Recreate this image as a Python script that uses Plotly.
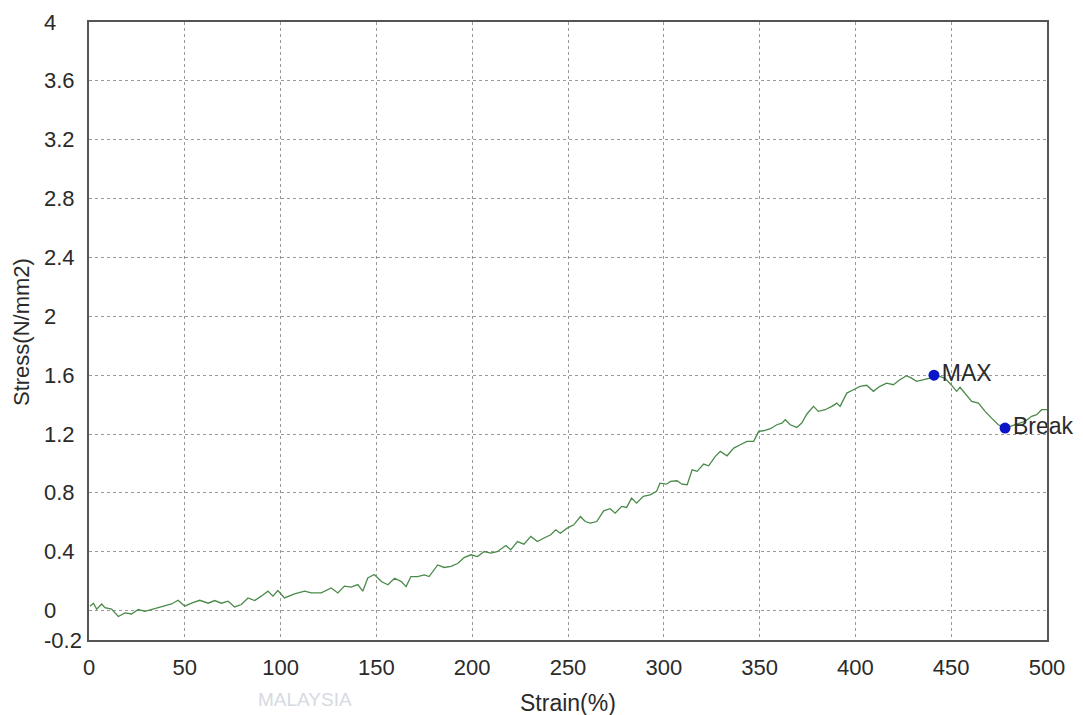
import plotly.graph_objects as go

# ---- data ----
strain = [0.5, 2.3, 4.0, 6.6, 8.3, 11.8, 15.3, 18.8, 22.2, 25.7, 29.2, 32.6, 37.8, 43.1, 46.5,
          50.0, 53.5, 57.8, 62.2, 65.6, 69.1, 72.6, 76.0, 79.5, 83.0, 86.5, 89.9, 93.4, 96.0,
          98.6, 102.0, 107.3, 112.5, 116.0, 121.2, 126.4, 129.9, 133.3, 136.8, 140.3, 142.9,
          145.5, 148.9, 152.6, 156.0, 159.5, 163.0, 165.5, 168.0, 171.5, 175.0, 177.5, 182.0,
          185.4, 188.9, 192.4, 195.8, 199.3, 202.8, 206.3, 209.7, 213.0, 217.6, 220.1, 223.6,
          227.0, 230.6, 234.0, 237.5, 241.0, 243.6, 246.0, 249.6, 253.0, 256.5, 259.0, 261.7,
          265.0, 268.6, 272.0, 274.6, 278.0, 280.6, 283.2, 285.8, 289.3, 292.8, 296.2, 298.0,
          301.4, 303.5, 306.9, 309.5, 312.2, 314.8, 317.4, 320.8, 323.4, 326.9, 329.5, 333.0,
          336.5, 339.9, 343.4, 346.9, 349.5, 352.0, 355.6, 359.0, 361.6, 363.4, 366.0, 369.4,
          372.0, 374.7, 378.1, 380.7, 384.2, 387.7, 390.3, 392.0, 395.5, 399.0, 402.4, 405.9,
          409.4, 412.8, 416.3, 419.8, 423.2, 426.7, 429.3, 431.9, 435.4, 438.9, 441.0, 446.6,
          450.0, 452.8, 454.6, 457.3, 460.7, 464.2, 467.7, 471.1, 474.6, 478.1, 483.3, 488.5,
          492.0, 494.6, 497.2, 500.0]
stress = [0.03, 0.05, 0.01, 0.045, 0.02, 0.01, -0.04, -0.016, -0.023, 0.007, -0.005, 0.007, 0.03,
          0.045, 0.07, 0.03, 0.05, 0.07, 0.05, 0.068, 0.05, 0.064, 0.025, 0.041, 0.086, 0.068,
          0.098, 0.132, 0.098, 0.136, 0.086, 0.113, 0.132, 0.12, 0.12, 0.154, 0.12, 0.166, 0.159,
          0.177, 0.132, 0.222, 0.245, 0.197, 0.175, 0.22, 0.197, 0.163, 0.231, 0.231, 0.243,
          0.231, 0.31, 0.293, 0.30, 0.32, 0.36, 0.379, 0.367, 0.401, 0.39, 0.40, 0.442, 0.413,
          0.469, 0.451, 0.504, 0.469, 0.493, 0.515, 0.549, 0.526, 0.56, 0.583, 0.639, 0.605,
          0.594, 0.605, 0.678, 0.692, 0.662, 0.708, 0.701, 0.764, 0.73, 0.776, 0.787, 0.81,
          0.866, 0.859, 0.878, 0.882, 0.859, 0.855, 0.957, 0.946, 0.996, 0.984, 1.048, 1.082,
          1.052, 1.104, 1.127, 1.15, 1.15, 1.218, 1.222, 1.236, 1.263, 1.274, 1.297, 1.263,
          1.245, 1.274, 1.336, 1.388, 1.354, 1.365, 1.388, 1.41, 1.388, 1.478, 1.501, 1.524,
          1.531, 1.49, 1.524, 1.546, 1.535, 1.569, 1.596, 1.58, 1.558, 1.569, 1.58, 1.603,
          1.58, 1.535, 1.49, 1.517, 1.478, 1.422, 1.41, 1.354, 1.308, 1.263, 1.24, 1.263,
          1.286, 1.32, 1.331, 1.365, 1.365]

point_names = ["MAX", "Break"]
point_strain = [441.0, 478.1]
point_stress = [1.60, 1.24]

x_ticks = [0, 50, 100, 150, 200, 250, 300, 350, 400, 450, 500]
x_tick_labels = ["0", "50", "100", "150", "200", "250", "300", "350", "400", "450", "500"]
y_ticks = [-0.2, 0, 0.4, 0.8, 1.2, 1.6, 2.0, 2.4, 2.8, 3.2, 3.6, 4.0]
y_tick_labels = ["-0.2", "0", "0.4", "0.8", "1.2", "1.6", "2", "2.4", "2.8", "3.2", "3.6", "4"]

FONT = "Liberation Sans, Arial, sans-serif"
TXT = "#2a2a2a"

# page body has an 8px margin: size the figure so the plot lands where the reference has it
OFF = 8
W, H = 1083 - OFF, 715 - OFF
L, T = 89 - OFF, 20 - OFF
PW, PH = 958, 620
R, B = W - L - PW, H - T - PH


def px(sx):
    return (sx - OFF - L) / PW


def py(sy):
    return (H - B - (sy - OFF)) / PH


fig = go.Figure()
fig.add_trace(go.Scatter(x=strain, y=stress, mode="lines",
                         line=dict(color="#4a8a4a", width=1.3), hoverinfo="skip",
                         showlegend=False))
fig.add_trace(go.Scatter(x=point_strain, y=point_stress, mode="markers+text",
                         marker=dict(color="#0a14c8", size=11),
                         text=point_names, textposition="middle right",
                         textfont=dict(family=FONT, size=23, color=TXT),
                         cliponaxis=False, showlegend=False))

annotations = []
for v, t in zip(y_ticks, y_tick_labels):
    annotations.append(dict(x=px(42), xref="paper", y=v, yref="y", text=t,
                            xanchor="left", yanchor="middle", showarrow=False,
                            font=dict(family=FONT, size=22, color=TXT)))
annotations.append(dict(x=0.5, xref="paper", y=py(703), yref="paper", text="Strain(%)",
                        showarrow=False, xanchor="center", yanchor="middle",
                        font=dict(family=FONT, size=23, color=TXT)))
annotations.append(dict(x=px(22), xref="paper", y=py(331), yref="paper", text="Stress(N/mm2)",
                        textangle=-90, showarrow=False, xanchor="center", yanchor="middle",
                        font=dict(family=FONT, size=22, color=TXT)))
annotations.append(dict(x=px(305), xref="paper", y=py(700), yref="paper",
                        text="MALAYSIA", showarrow=False, xanchor="center", yanchor="middle",
                        font=dict(family=FONT, size=19, color="#d6dae2")))

fig.update_layout(
    width=W, height=H,
    margin=dict(l=L, r=R, t=T, b=B),
    paper_bgcolor="white", plot_bgcolor="white",
    annotations=annotations,
    xaxis=dict(range=[0, 500], tickvals=x_ticks, ticktext=x_tick_labels,
               showgrid=True, gridcolor="#9a9a9a", griddash="dot", gridwidth=1,
               showline=True, linecolor="#555555", linewidth=2, mirror=True,
               ticks="outside", ticklen=7, tickcolor="rgba(0,0,0,0)",
               tickfont=dict(family=FONT, size=22, color=TXT), zeroline=False),
    yaxis=dict(range=[-0.2, 4], tickvals=y_ticks, showticklabels=False,
               showgrid=True, gridcolor="#9a9a9a", griddash="dot", gridwidth=1,
               showline=True, linecolor="#555555", linewidth=2, mirror=True,
               zeroline=False),
)

fig.write_html("out.html")
